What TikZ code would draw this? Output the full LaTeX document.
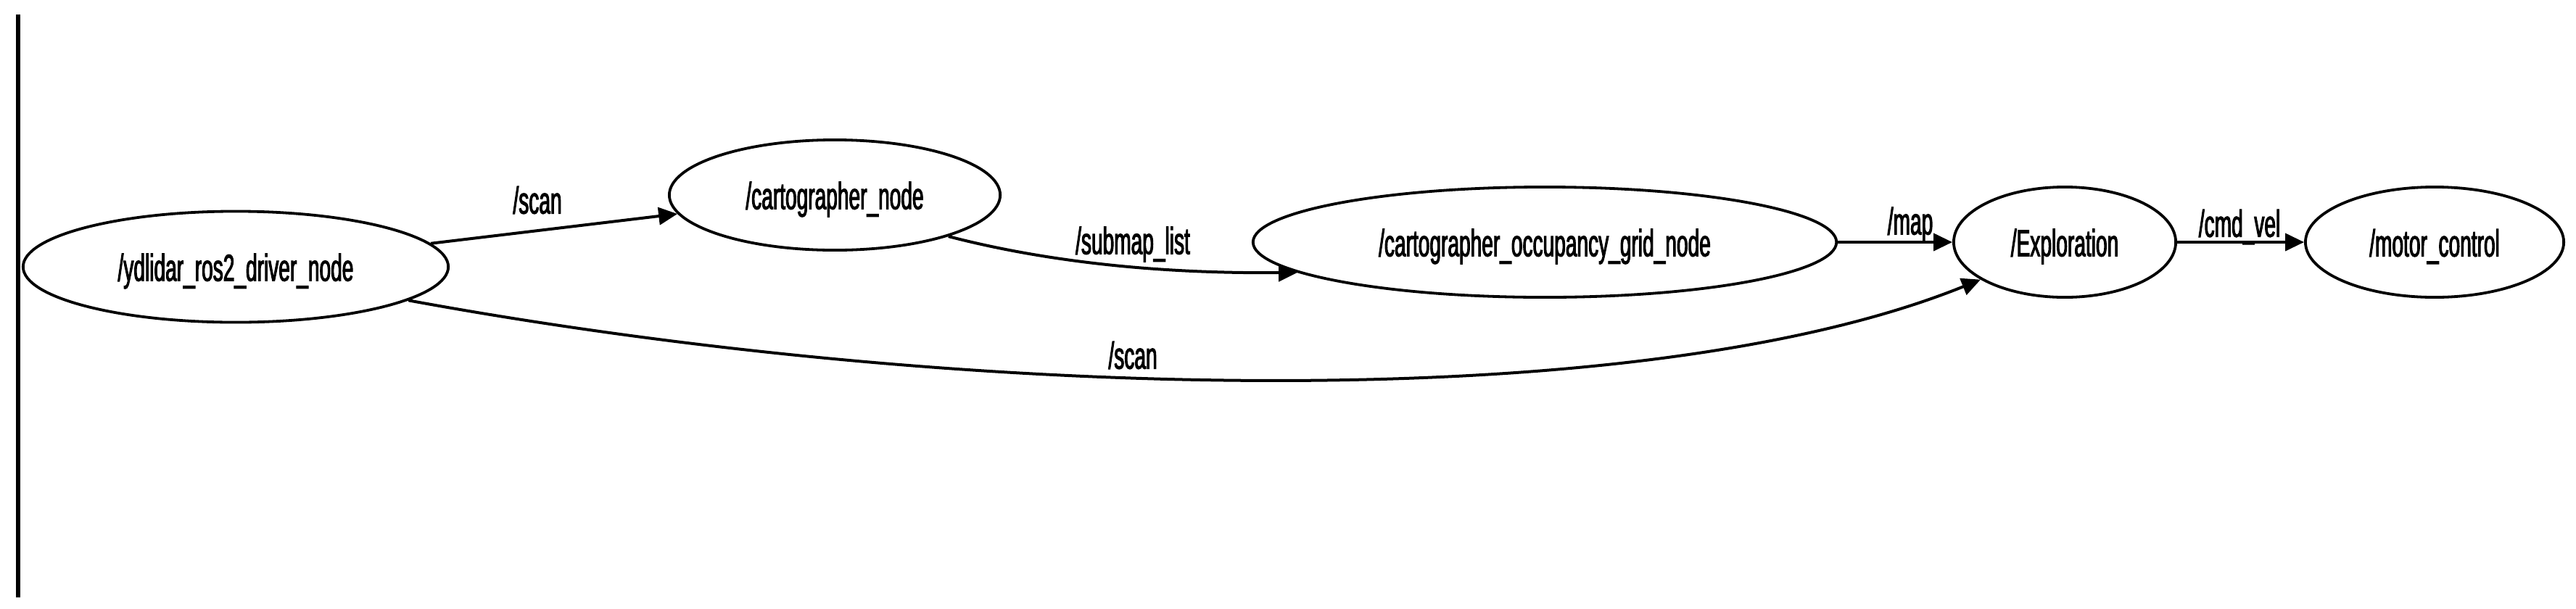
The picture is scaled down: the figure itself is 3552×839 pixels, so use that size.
\documentclass[tikz,border=0pt]{standalone}
\usepackage{fontspec}
\setmainfont[FakeStretch=0.54,FakeBold=2]{Liberation Sans}
\usetikzlibrary{shapes.geometric,arrows.meta}
\newcommand\lowtxt[1]{\raisebox{-0.6mm}[\height][\depth]{#1}}
\begin{document}
\begin{tikzpicture}[x=0.01cm,y=-0.01cm,
  nd/.style={ellipse, draw, line width=0.38mm, inner sep=0pt},
  edge/.style={line width=0.4mm, -{Triangle[length=2.6mm,width=2.4mm]}},
  lbl/.style={inner sep=0pt},
  every node/.style={font=\fontsize{14.8pt}{17pt}\selectfont}]
\useasboundingbox (0,0) rectangle (3552,839);
\coordinate (bartop) at (25,20);
\coordinate (barbot) at (25,824);
\draw[line width=0.65mm] (bartop) -- (barbot);

\node[nd, minimum width=5.86cm, minimum height=1.53cm] (ydl) at (325,368) {\lowtxt{/ydlidar\_ros2\_driver\_node}};
\node[nd, minimum width=4.56cm, minimum height=1.52cm] (carto) at (1151,269) {\lowtxt{/cartographer\_node}};
\node[nd, minimum width=8.04cm, minimum height=1.52cm] (occ) at (2130,334) {\lowtxt{/cartographer\_occupancy\_grid\_node}};
\node[nd, minimum width=3.06cm, minimum height=1.52cm] (expl) at (2847,334) {\lowtxt{/Exploration}};
\node[nd, minimum width=3.56cm, minimum height=1.52cm] (motor) at (3357,334) {\lowtxt{/motor\_control}};

\draw[edge] (ydl) -- (carto);
\draw[edge] (carto.-20) .. controls (1400,350) and (1550,378) .. (occ.187);
\draw[edge] (occ) -- (expl);
\draw[edge] (expl) -- (motor);
\draw[edge] (ydl.-11) .. controls (1300,550) and (2250,580) .. (expl.-156);

\node[lbl] (l1) at (741,276) {/scan};
\node[lbl] (l2) at (1562,337) {/submap\_list};
\node[lbl] (l3) at (2634,310) {/map};
\node[lbl] (l4) at (3088,313) {/cmd\_vel};
\node[lbl] (l5) at (1562,490) {/scan};
\end{tikzpicture}
\end{document}
